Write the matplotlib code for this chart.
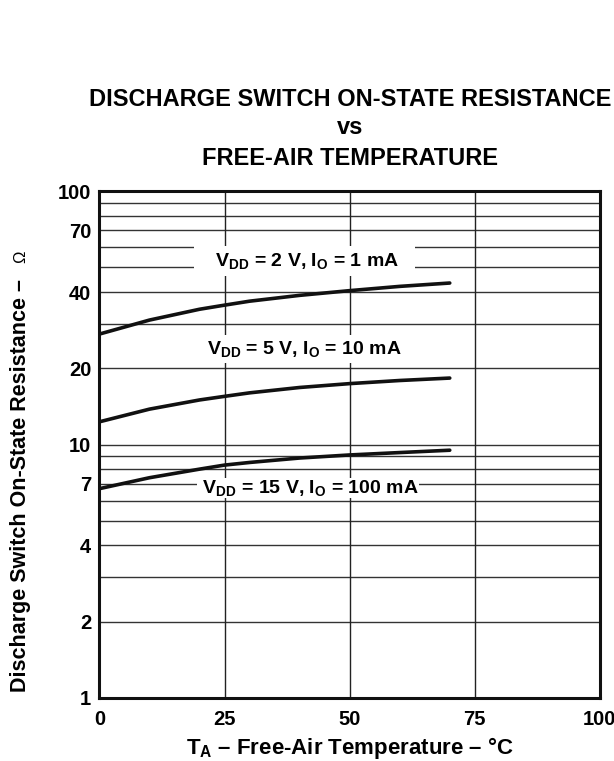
import matplotlib
matplotlib.use('Agg')
import matplotlib.pyplot as plt
import numpy as np

# data
temp = [0, 10, 20, 25, 30, 40, 50, 60, 70]
r_2v = [27.3, 31.0, 34.2, 35.5, 36.8, 38.8, 40.5, 42.1, 43.4]
r_5v = [12.3, 13.8, 15.0, 15.5, 16.0, 16.8, 17.4, 17.9, 18.3]
r_15v = [6.7, 7.4, 8.0, 8.3, 8.5, 8.85, 9.1, 9.3, 9.5]

x_ticks = [0, 25, 50, 75, 100]
y_ticks = [1, 2, 4, 7, 10, 20, 40, 70, 100]
y_grid = [2, 3, 4, 5, 6, 7, 8, 9, 10, 20, 30, 40, 50, 60, 70, 80, 90]

plt.rcParams['font.family'] = ['Liberation Sans', 'DejaVu Sans']
plt.rcParams['mathtext.fontset'] = 'custom'
plt.rcParams['mathtext.rm'] = 'Liberation Sans:bold'
plt.rcParams['mathtext.bf'] = 'Liberation Sans:bold'
plt.rcParams['mathtext.it'] = 'Liberation Sans:bold'

fig = plt.figure(figsize=(6.14, 7.61), dpi=100)
ax = fig.add_axes([0.162, 0.0828, 0.815, 0.666])

ax.set_yscale('log')
ax.set_xlim(0, 100)
ax.set_ylim(1, 100)

# grid
for g in y_grid:
    ax.axhline(g, color='#333333', lw=1.0, zorder=1)
for g in x_ticks[1:-1]:
    ax.axvline(g, color='#222222', lw=1.0, zorder=1)

# curves
for r in (r_2v, r_5v, r_15v):
    ax.plot(temp, r, color='#111111', lw=2.6, solid_capstyle='round', zorder=4)

# labels with white boxes breaking the grid
lbl_kw = dict(fontsize=14, fontweight='bold', ha='center', va='center', zorder=3)
ax.text(41, 53, r'   V$_{\rm DD}$ = 2 V, I$_{\rm O}$ = 1 mA   ',
        bbox=dict(facecolor='white', edgecolor='none', boxstyle='square,pad=0.25'), **lbl_kw)
ax.text(41, 23.8, r'V$_{\rm DD}$ = 5 V, I$_{\rm O}$ = 10 mA',
        bbox=dict(facecolor='white', edgecolor='none', boxstyle='square,pad=0.2'), **lbl_kw)
ax.text(41.7, 6.75, r' V$_{\rm DD}$ = 15 V, I$_{\rm O}$ = 100 mA ',
        bbox=dict(facecolor='white', edgecolor='none', boxstyle='square,pad=0.0'), **lbl_kw)

# ticks
ax.set_xticks(x_ticks)
ax.set_xticklabels([str(t) for t in x_ticks], fontsize=14.5, fontweight='bold')
ax.set_yticks(y_ticks)
ax.set_yticklabels([str(t) for t in y_ticks], fontsize=14.5, fontweight='bold')
ax.yaxis.set_minor_locator(matplotlib.ticker.NullLocator())
ax.tick_params(axis='y', length=0, pad=6)
ax.tick_params(axis='x', length=0, pad=9)

for s in ax.spines.values():
    s.set_linewidth(2.2)
    s.set_color('#111111')
    s.set_zorder(5)

# titles
title_kw = dict(ha='center', va='center', fontsize=17, fontweight='bold')
fig.text(0.570, 0.869, 'DISCHARGE SWITCH ON-STATE RESISTANCE', **title_kw)
fig.text(0.570, 0.833, 'vs', **title_kw)
fig.text(0.570, 0.792, 'FREE-AIR TEMPERATURE', **title_kw)

fig.text(0.570, 0.017, r'T$_{\rm A}$ – Free-Air Temperature – °C', ha='center', va='center',
         fontsize=16, fontweight='bold')
fig.text(0.033, 0.0907, 'Discharge Switch On-State Resistance –', rotation=90,
         ha='center', va='bottom', fontsize=15.5, fontweight='bold')
fig.text(0.033, 0.662, 'Ω', rotation=90, ha='center', va='center', fontsize=12)

fig.savefig('out.png', dpi=100)
